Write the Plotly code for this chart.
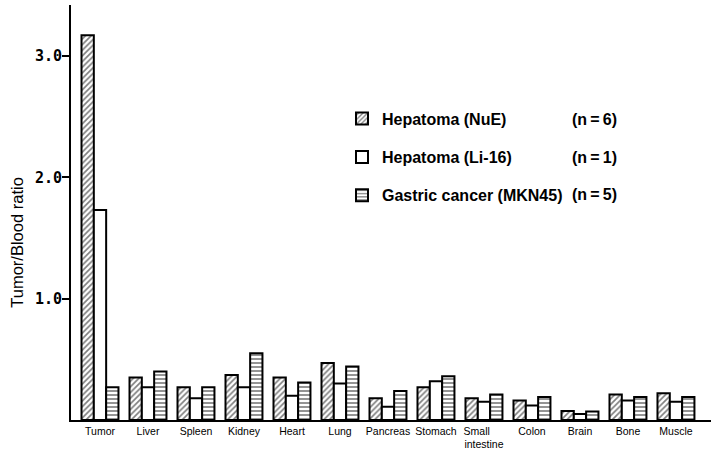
import plotly.graph_objects as go

# Tissue categories along the x axis
organs = ["Tumor", "Liver", "Spleen", "Kidney", "Heart", "Lung", "Pancreas",
          "Stomach", "Small\u00a0\u00a0\u00a0\u00a0\u00a0<br>intestine", "Colon", "Brain", "Bone", "Muscle"]

# Tumor/blood ratios per tissue
nue = [3.17, 0.35, 0.27, 0.37, 0.35, 0.47, 0.18, 0.27, 0.18, 0.16, 0.075, 0.21, 0.22]
li16 = [1.73, 0.27, 0.18, 0.27, 0.20, 0.30, 0.11, 0.32, 0.15, 0.12, 0.05, 0.16, 0.15]
mkn45 = [0.27, 0.40, 0.27, 0.55, 0.31, 0.44, 0.24, 0.36, 0.21, 0.19, 0.07, 0.19, 0.19]

series_names = ["Hepatoma (NuE)", "Hepatoma (Li-16)", "Gastric cancer (MKN45)"]
n_labels = ["(n\u2009=\u20096)", "(n\u2009=\u20091)", "(n\u2009=\u20095)"]

y_ticks = [1.0, 2.0, 3.0]
y_tick_text = ["1.0", "2.0", "3.0"]

FONT = "Liberation Sans, Arial, sans-serif"
MONO = "DejaVu Sans Mono, monospace"
outline = dict(color="black", width=2)

fig = go.Figure()
fig.add_bar(x=organs, y=nue, name=series_names[0], legendgroup="a",
            marker=dict(color="white", line=outline,
                        pattern=dict(shape="/", fgcolor="black", bgcolor="white",
                                     size=4, solidity=0.42)))
fig.add_bar(x=organs, y=li16, name=series_names[1], legendgroup="b",
            marker=dict(color="white", line=outline))
fig.add_bar(x=organs, y=mkn45, name=series_names[2], legendgroup="c",
            marker=dict(color="white", line=outline,
                        pattern=dict(shape="-", fgcolor="black", bgcolor="white",
                                     size=4, solidity=0.42)))

# sample sizes next to the legend entries
for i, txt in enumerate(n_labels):
    fig.add_annotation(text=txt, xref="paper", yref="paper", x=0.7797,
                       y=0.723 - i * 0.0903, xanchor="left", yanchor="middle",
                       showarrow=False,
                       font=dict(family=FONT, size=16, color="black", weight="bold"))

# y-axis title
fig.add_annotation(text="Tumor/Blood ratio", xref="paper", yref="paper",
                   x=-0.0844, y=0.4296, textangle=-90, showarrow=False,
                   xanchor="center", yanchor="middle",
                   font=dict(family=FONT, size=16.5, color="black"))

fig.update_layout(
    width=711, height=455,
    margin=dict(l=71, r=0, t=5, b=34.5),
    paper_bgcolor="white", plot_bgcolor="white",
    barmode="group", bargap=0.23, bargroupgap=0,
    font=dict(family=FONT, color="black"),
    legend=dict(x=0.4234, y=0.767, xanchor="left", yanchor="top",
                traceorder="grouped", tracegroupgap=14.5,
                font=dict(family=FONT, size=16, color="black", weight="bold"),
                bgcolor="rgba(0,0,0,0)"),
    showlegend=True,
)
fig.update_xaxes(range=[-0.604, 12.73], showline=True, linecolor="black",
                 linewidth=2, ticks="", showgrid=False, zeroline=False,
                 tickfont=dict(family=FONT, size=10.5, color="black"))
fig.update_yaxes(range=[0, 3.42], showline=True, linecolor="black", linewidth=2,
                 ticks="outside", ticklen=7, tickwidth=1.5, tickcolor="black",
                 tickvals=y_ticks, ticktext=y_tick_text, showgrid=False,
                 zeroline=False, ticklabelstandoff=-3,
                 tickfont=dict(family=MONO, size=15, color="black", weight="bold"))

fig.write_html("out.html")
